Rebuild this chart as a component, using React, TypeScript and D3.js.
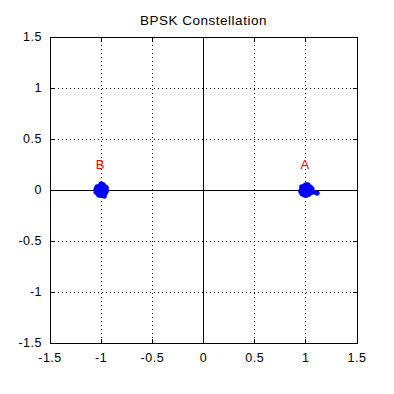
import React from "react";
import * as d3 from "d3";

const title = "BPSK Constellation";
const xTicks = [-1.5, -1, -0.5, 0, 0.5, 1, 1.5];
const yTicks = [-1.5, -1, -0.5, 0, 0.5, 1, 1.5];
const symbolLabels = ["A", "B"];
const symbolI = [1, -1];
const labelQ = 0.25;

const pointsA: [number, number][] = [
  [0.97, 0.02], [0.99, 0.04], [1.01, 0.03], [1.03, 0.01], [1.02, -0.02], [0.98, -0.03],
  [1.0, -0.04], [0.96, 0.0], [1.04, 0.03], [1.05, -0.01], [0.99, 0.0], [1.01, -0.01],
  [0.97, -0.02], [1.03, -0.04], [1.0, 0.05], [0.98, 0.03], [1.02, 0.05], [0.96, 0.03],
  [1.04, -0.03], [1.06, 0.01], [0.99, -0.05], [1.01, 0.01], [0.98, 0.01], [1.02, 0.0],
  [1.0, -0.02], [0.97, -0.04], [1.03, 0.02], [1.05, 0.02], [0.95, -0.01], [1.01, -0.05],
  [1.11, -0.03], [1.0, 0.02], [0.99, 0.02], [1.02, -0.04], [1.07, -0.02], [0.96, -0.03],
];
const pointsB: [number, number][] = [
  [-1.03, 0.02], [-1.01, 0.04], [-0.99, 0.03], [-0.97, 0.01], [-0.98, -0.02], [-1.02, -0.03],
  [-1.0, -0.04], [-1.04, 0.0], [-0.96, 0.03], [-0.95, -0.01], [-1.01, 0.0], [-0.99, -0.01],
  [-1.03, -0.02], [-0.97, -0.04], [-1.0, 0.05], [-1.02, 0.03], [-0.98, 0.05], [-1.04, 0.03],
  [-0.96, -0.03], [-1.05, 0.01], [-1.01, -0.05], [-0.99, 0.01], [-1.02, 0.01], [-0.98, 0.0],
  [-1.0, -0.02], [-1.03, -0.04], [-0.97, 0.02], [-0.95, 0.02], [-1.05, -0.02], [-0.99, -0.05],
  [-1.0, 0.02], [-1.01, 0.02], [-0.98, -0.04], [-1.0, 0.06], [-0.97, -0.06], [-1.02, -0.05],
];

const W = 394, H = 394;
const L = 50, R = 357, T = 37, B = 343;

export default function App() {
  const x = d3.scaleLinear().domain([-1.5, 1.5]).range([L, R]);
  const y = d3.scaleLinear().domain([-1.5, 1.5]).range([B, T]);
  const font = "'Liberation Sans', Arial, sans-serif";
  const fmt = (v: number) => String(v);
  return (
    <svg width={W} height={H} style={{ position: "absolute", left: 0, top: 0, background: "#fff" }}>
      <rect x={0} y={0} width={W} height={H} fill="#fff" />
      <rect x={L} y={T} width={R - L} height={B - T} fill="#fff" />
      {xTicks.slice(1, -1).map((t) => (
        <line key={"gx" + t} x1={x(t)} x2={x(t)} y1={T} y2={B} stroke="#000" strokeWidth={1} strokeDasharray="1,3" shapeRendering="crispEdges" />
      ))}
      {yTicks.slice(1, -1).map((t) => (
        <line key={"gy" + t} x1={L} x2={R} y1={y(t)} y2={y(t)} stroke="#000" strokeWidth={1} strokeDasharray="1,3" shapeRendering="crispEdges" />
      ))}
      <line x1={x(0)} x2={x(0)} y1={T} y2={B} stroke="#000" strokeWidth={1} shapeRendering="crispEdges" />
      <line x1={L} x2={R} y1={y(0)} y2={y(0)} stroke="#000" strokeWidth={1} shapeRendering="crispEdges" />
      {xTicks.map((t) => (
        <g key={"tx" + t}>
          <line x1={x(t)} x2={x(t)} y1={B} y2={B - 4} stroke="#000" shapeRendering="crispEdges" />
          <line x1={x(t)} x2={x(t)} y1={T} y2={T + 4} stroke="#000" shapeRendering="crispEdges" />
        </g>
      ))}
      {yTicks.map((t) => (
        <g key={"ty" + t}>
          <line x1={L} x2={L + 4} y1={y(t)} y2={y(t)} stroke="#000" shapeRendering="crispEdges" />
          <line x1={R} x2={R - 4} y1={y(t)} y2={y(t)} stroke="#000" shapeRendering="crispEdges" />
        </g>
      ))}
      {[...pointsA, ...pointsB].map((p, i) => (
        <circle key={"p" + i} cx={x(p[0])} cy={y(p[1])} r={2.6} fill="#0000ff" />
      ))}
      {symbolLabels.map((s, i) => (
        <text key={s} x={x(symbolI[i]) - 1} y={y(labelQ)} dy="0.35em" textAnchor="middle" fill="#ff0000" fontSize={13} fontFamily={font}>
          {s}
        </text>
      ))}
      <rect x={L} y={T} width={R - L} height={B - T} fill="none" stroke="#000" strokeWidth={1} shapeRendering="crispEdges" />
      {xTicks.map((t) => (
        <text key={"lx" + t} x={x(t)} y={B + 15} dy="0.35em" textAnchor="middle" fontSize={12.5} letterSpacing={0.5} fontFamily={font} fill="#000">
          {fmt(t)}
        </text>
      ))}
      {yTicks.map((t) => (
        <text key={"ly" + t} x={L - 8} y={y(t)} dy="0.35em" textAnchor="end" fontSize={12.5} letterSpacing={0.5} fontFamily={font} fill="#000">
          {fmt(t)}
        </text>
      ))}
      <text x={(L + R) / 2} y={20} dy="0.35em" textAnchor="middle" fontSize={13.5} letterSpacing={0.5} fontFamily={font} fill="#000">
        {title}
      </text>
    </svg>
  );
}
